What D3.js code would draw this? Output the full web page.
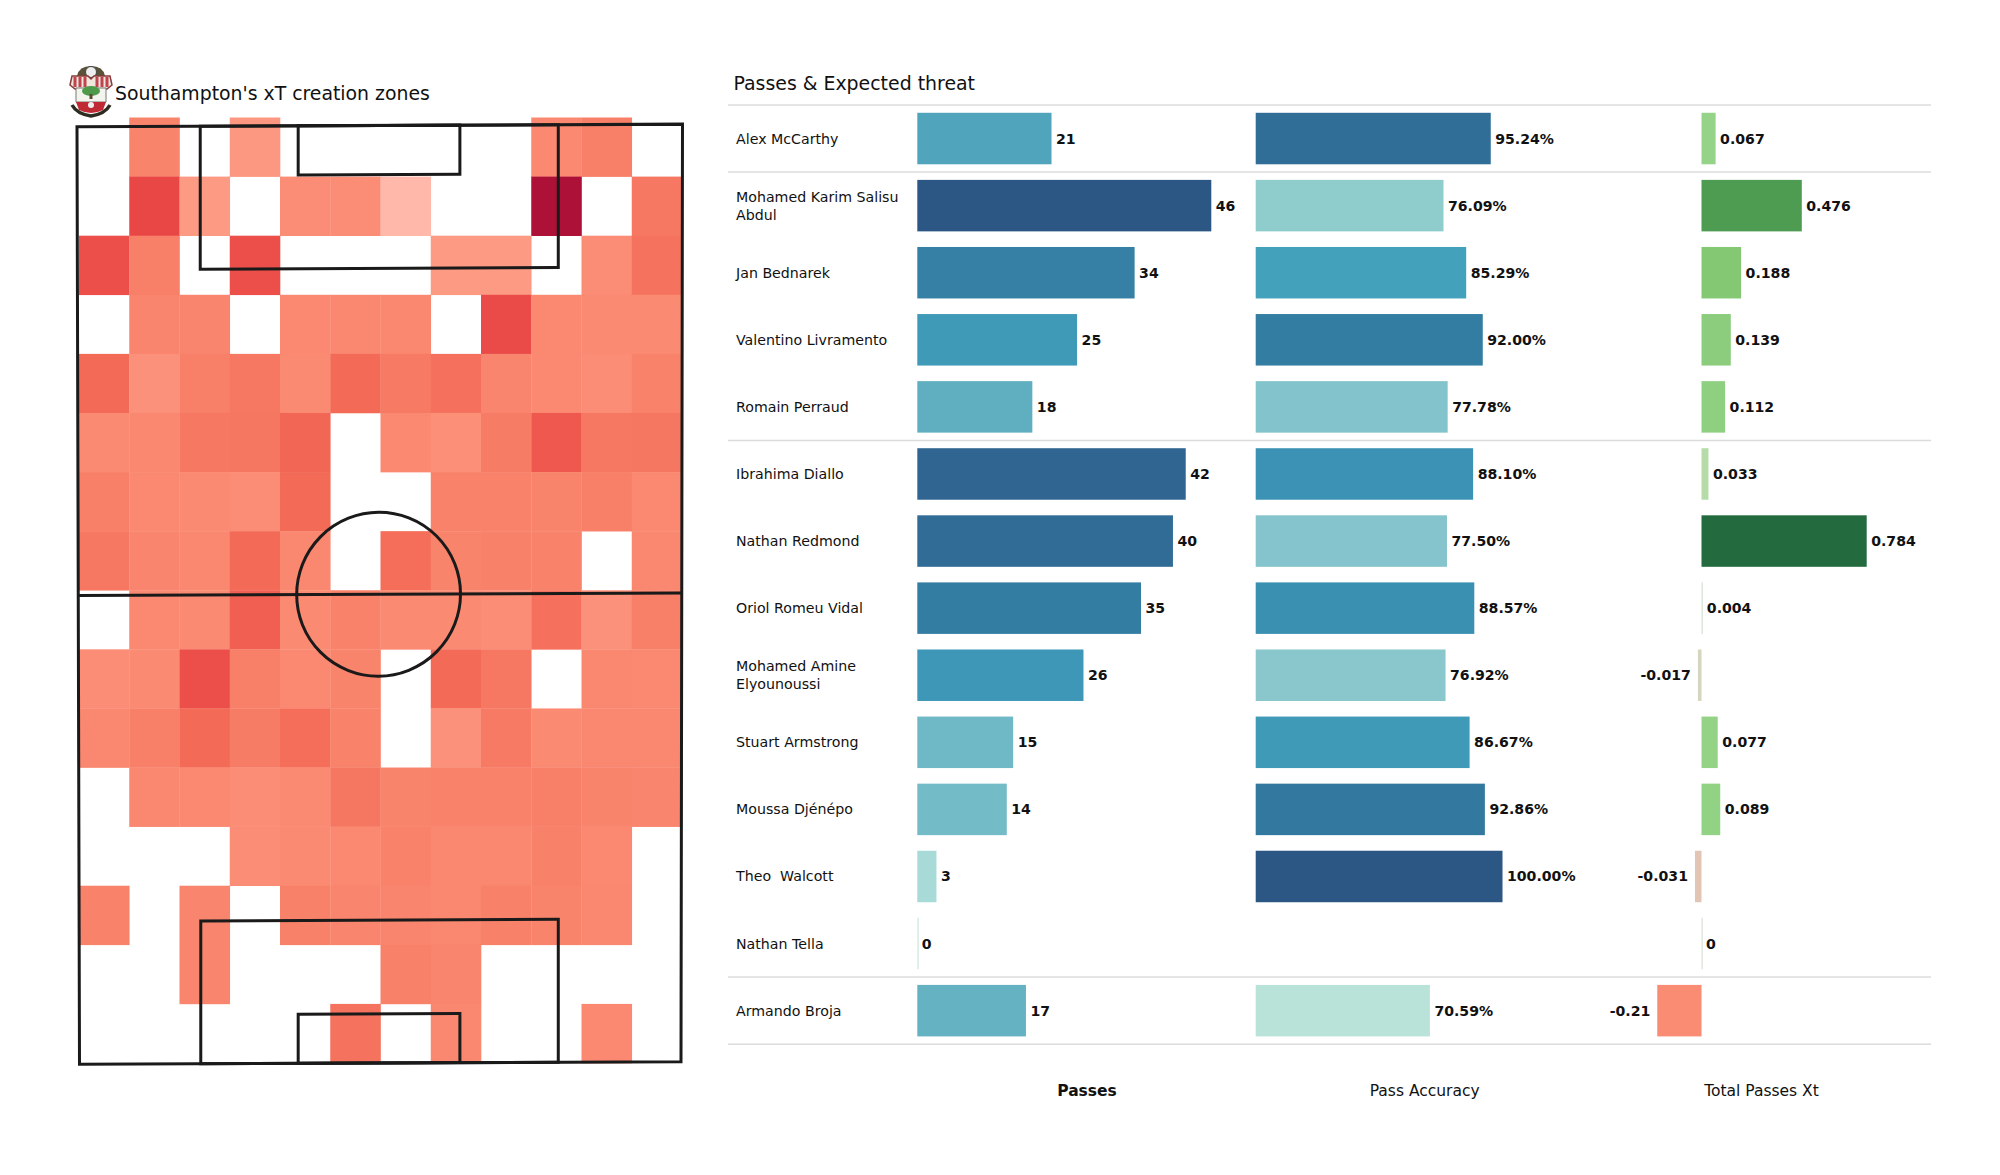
<!DOCTYPE html>
<html><head><meta charset="utf-8">
<script src="https://d3js.org/d3.v7.min.js"></script>
<style>html,body{margin:0;padding:0;background:#fff}svg{display:block}text{font-family:"DejaVu Sans",sans-serif;fill:#111}</style>
</head><body><svg id="c" width="2000" height="1175"></svg>
<script>
const players=["Alex McCarthy","Mohamed Karim Salisu|Abdul","Jan Bednarek","Valentino Livramento","Romain Perraud","Ibrahima Diallo","Nathan Redmond","Oriol Romeu Vidal","Mohamed Amine|Elyounoussi","Stuart Armstrong","Moussa Djénépo","Theo  Walcott","Nathan Tella","Armando Broja"];
const passes=[21,46,34,25,18,42,40,35,26,15,14,3,0,17];
const accuracy=[95.24,76.09,85.29,92.00,77.78,88.10,77.50,88.57,76.92,86.67,92.86,100.00,null,70.59];
const xtValues=[0.067,0.476,0.188,0.139,0.112,0.033,0.784,0.004,-0.017,0.077,0.089,-0.031,0,-0.21];
const xtLabels=["0.067","0.476","0.188","0.139","0.112","0.033","0.784","0.004","-0.017","0.077","0.089","-0.031","0","-0.21"];
const separatorsAt=[0,1,5,13,14];
const headers=["Passes","Pass Accuracy","Total Passes Xt"];
const heat=[
[0,35,0,25,0,0,0,0,0,32,38,0],
[0,68,24,0,30,30,10,0,0,100,0,42],
[62,38,0,62,0,0,0,24,24,0,30,45],
[0,34,34,0,32,33,33,0,65,32,31,31],
[50,28,38,42,31,50,41,46,34,32,30,36],
[31,33,42,43,52,0,32,29,40,58,42,43],
[38,32,31,30,50,0,0,36,36,35,38,32],
[42,34,33,50,33,0,48,35,37,36,0,33],
[0,32,31,55,31,36,31,31,30,46,28,38],
[30,31,62,38,32,35,0,50,42,0,33,32],
[33,38,50,40,48,36,0,28,41,31,33,33],
[0,33,32,30,31,43,35,36,36,38,35,34],
[0,0,0,30,31,32,36,33,33,37,32,0],
[36,0,34,0,37,34,34,33,37,35,33,0],
[0,0,34,0,0,0,37,34,0,0,0,0],
[0,0,0,0,0,45,0,33,0,0,32,0]];

const svg=d3.select("#c");
// heat map
const hx=d3.scaleBand().domain(d3.range(12)).range([79,682]);
const hy=d3.scaleBand().domain(d3.range(16)).range([117.5,1063]);
const hc=d3.scaleLinear().domain([10,24,31,40,50,62,70,100])
  .range(["#ffb8a9","#fc9a84","#fb8a72","#f77c65","#f36a57","#ec4f4a","#e64444","#ae1137"]);
const g=svg.append("g");
heat.forEach((row,r)=>row.forEach((v,c)=>{ if(v>0) g.append("rect").attr("x",hx(c)).attr("y",hy(r)).attr("width",hx.bandwidth()+.3).attr("height",hy.bandwidth()+.3).attr("fill",hc(v)); }));
// pitch (105 x 68 metres)
const px=d3.scaleLinear().domain([0,68]).range([77,682.5]);
const py=d3.scaleLinear().domain([0,105]).range([125.5,1063]);
const p=svg.append("g").attr("fill","none").attr("stroke","#1a1a1a").attr("stroke-width",3).attr("transform","matrix(1,-0.0045,0,1,0,1.7)");
const box=(x0,x1,y0,y1)=>p.append("rect").attr("x",px(x0)).attr("y",py(y0)).attr("width",px(x1)-px(x0)).attr("height",py(y1)-py(y0));
p.append("path").attr("d",`M${px(0)},${py(0)}L${px(68)},${py(0)}L${px(68)-1.5},${py(105)}L${px(0)+2.5},${py(105)}Z`);
box(13.84,54.05,0,16);box(24.84,43.0,0,5.5);
box(13.9,54.05,89,105);box(24.84,43.0,99.5,105);
p.append("line").attr("x1",px(0)).attr("x2",px(68)).attr("y1",py(52.5)).attr("y2",py(52.5));
p.append("circle").attr("cx",px(33.87)).attr("cy",py(52.5)).attr("r",px(9.2)-px(0));
// crest
const cr=svg.append("g").attr("transform","translate(91,91)");
cr.append("path").attr("d","M-14,-15Q-12,-25 0,-25Q12,-25 14,-15L9,-13H-9Z").attr("fill","#5a5238");
cr.append("circle").attr("cy",-19).attr("r",5.5).attr("fill","#eee").attr("stroke","#444");
cr.append("path").attr("d","M-21,-6L-19,-15H-3L0,-12L3,-15H19L21,-6L16,-2H-16Z").attr("fill","#efe6dc").attr("stroke","#8a3a3a").attr("stroke-width",1.5);
[-16,-11,-6,6,11,16].forEach(x=>cr.append("rect").attr("x",x-1.5).attr("y",-14).attr("width",3).attr("height",10).attr("fill","#c0434d"));
cr.append("path").attr("d","M-15,-3H15V11H-15Z").attr("fill","#f4f4ee").attr("stroke","#777");
cr.append("ellipse").attr("cy",0).attr("rx",9).attr("ry",5).attr("fill","#4f9a4a");
cr.append("rect").attr("x",-1.5).attr("y",3).attr("width",3).attr("height",5).attr("fill","#5a4a30");
cr.append("path").attr("d","M-15,11H15L12,19Q0,25 -12,19Z").attr("fill","#c02a35");
cr.append("circle").attr("cy",14).attr("r",3).attr("fill","#eee");
cr.append("path").attr("d","M-19,14Q-14,23 0,25Q14,23 19,14").attr("fill","none").attr("stroke","#2c2c20").attr("stroke-width",3.5);
// titles
svg.append("text").attr("x",115).attr("y",100).attr("font-size",18.85).text("Southampton's xT creation zones");
svg.append("text").attr("x",733.5).attr("y",90).attr("font-size",18.9).text("Passes & Expected threat");
// rows
const rowY=d3.scaleBand().domain(d3.range(players.length)).range([105,1044.2]);
const barH=51.5, bw=rowY.bandwidth();
svg.append("g").selectAll("line").data(separatorsAt).join("line")
 .attr("x1",728).attr("x2",1931).attr("y1",d=>105+d*bw).attr("y2",d=>105+d*bw).attr("stroke","#dcdcdc").attr("stroke-width",1.5);
players.forEach((n,i)=>{
  const lines=n.split("|"), cy=rowY(i)+bw/2;
  lines.forEach((t,j)=>svg.append("text").attr("x",736).attr("y",cy+5+(j-(lines.length-1)/2)*18).attr("font-size",14.2).attr("xml:space","preserve").style("white-space","pre").text(t));
});
function col(vals,labels,x,colour){
  vals.forEach((v,i)=>{
    if(v===null) return;
    const cy=rowY(i)+bw/2, x0=x(0), x1=x(v);
    const w=Math.max(Math.abs(x1-x0),1.5);
    svg.append("rect").attr("x",Math.min(x0,x1)).attr("y",cy-barH/2).attr("width",w).attr("height",barH).attr("fill",colour(v));
    const neg=v<0;
    svg.append("text").attr("x",neg?x1-7:Math.max(x1,x0)+4.5).attr("y",cy+5).attr("text-anchor",neg?"end":"start")
      .attr("font-size",14.1).attr("font-weight","bold").text(labels[i]);
  });
}
const xP=d3.scaleLinear().domain([0,46]).range([917.3,1211.3]);
const cP=d3.scaleLinear().domain([0,3,15,21,25,35,42,46]).range(["#d5ece6","#a8dbd8","#6fb8c6","#50a5bc","#3f9ab8","#347da2","#2f6590","#2c5784"]);
col(passes,passes.map(String),xP,cP);
const xA=d3.scaleLinear().domain([0,100]).range([1255.7,1502.5]);
const cA=d3.scaleLinear().domain([70.59,76,77.5,85,88,92,95,100]).range(["#b9e3d8","#90cdcc","#85c4cc","#45a3bc","#3b93b4","#347da2","#316f98","#2c5784"]);
col(accuracy,accuracy.map(v=>v===null?"":v.toFixed(2)+"%"),xA,cA);
const xX=d3.scaleLinear().domain([0,0.784]).range([1701.5,1866.7]);
const cX=d3.scaleLinear().domain([-0.21,-0.031,-0.017,0,0.033,0.067,0.188,0.476,0.784]).range(["#fa8c73","#e3c5b5","#d6d6c0","#e4e6e0","#b5dba8","#95d488","#84c873","#4e9c52","#236b3f"]);
col(xtValues,xtLabels,xX,cX);
// headers
[1087,1424.7,1761.5].forEach((x,i)=>svg.append("text").attr("x",x).attr("y",1096).attr("text-anchor","middle").attr("font-size",15.5).attr("font-weight",i==0?"bold":"normal").text(headers[i]));
</script></body></html>
